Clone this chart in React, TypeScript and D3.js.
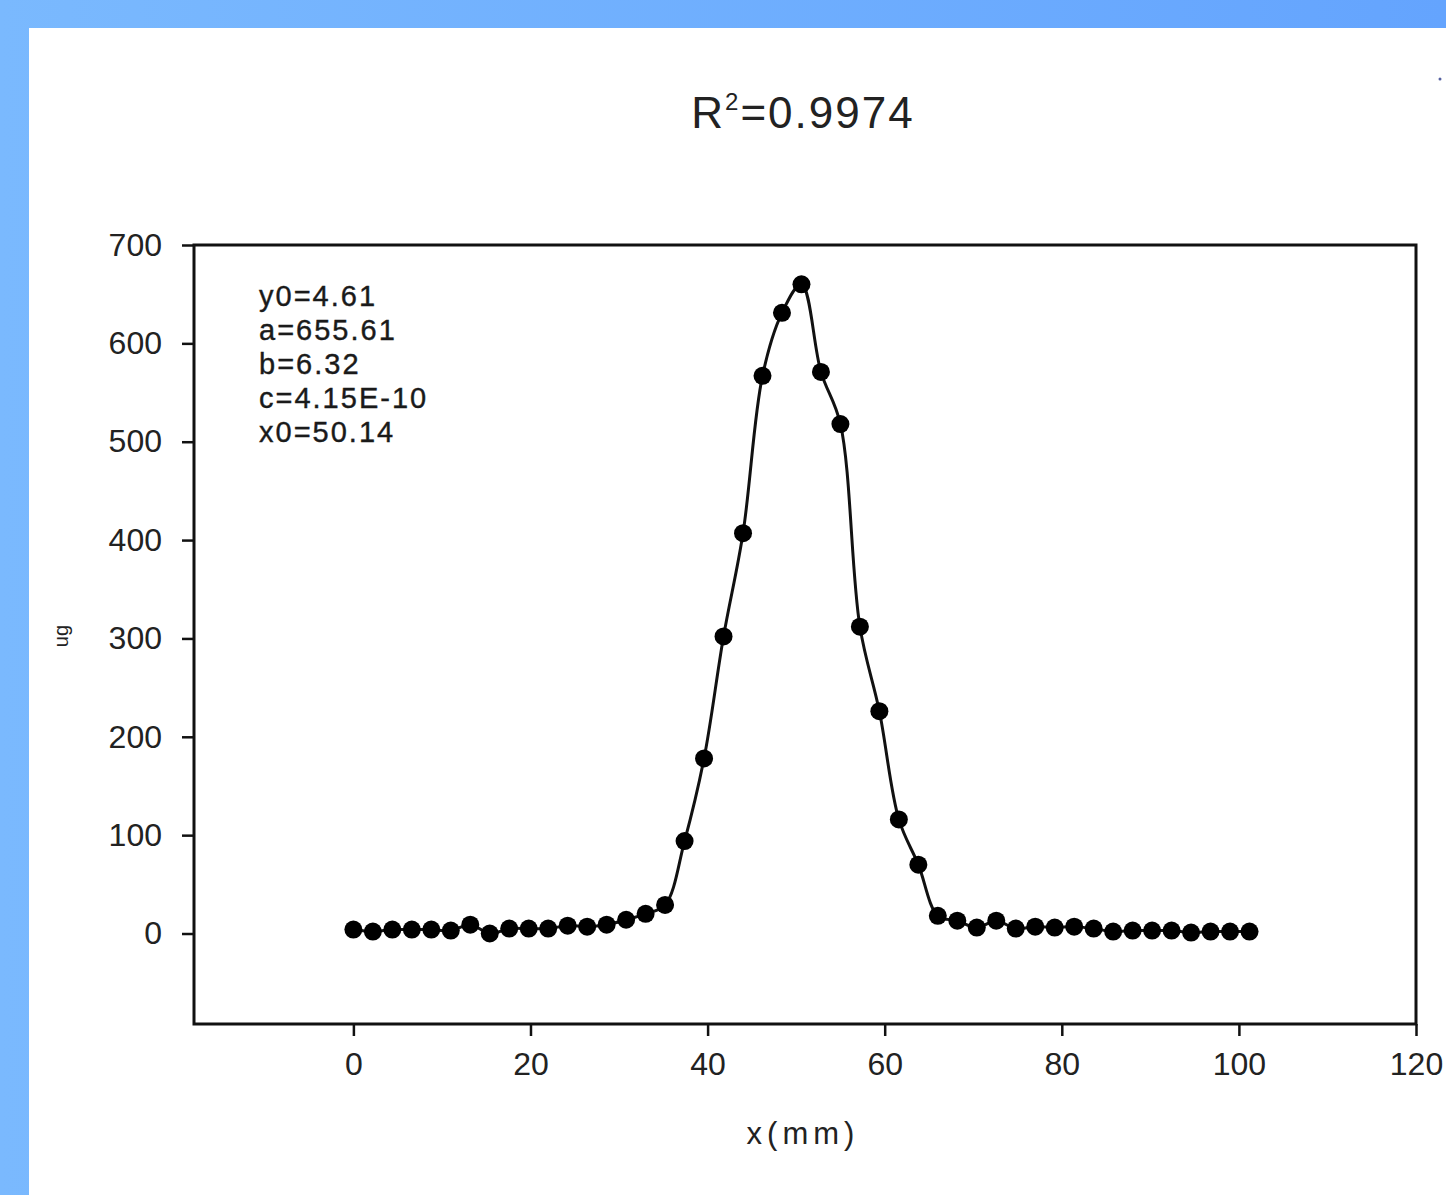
import React, { useEffect, useRef } from "react";
import * as d3 from "d3";

const xValues = [
    0, 2.2, 4.4, 6.6, 8.8, 11, 13.2, 15.4, 17.6, 19.8, 22, 24.2, 26.4, 28.6, 30.8, 33, 35.2,
    37.4, 39.6, 41.8, 44, 46.2, 48.4, 50.6, 52.8, 55, 57.2, 59.4, 61.6, 63.8, 66, 68.2, 70.4,
    72.6, 74.8, 77, 79.2, 81.4, 83.6, 85.8, 88, 90.2, 92.4, 94.6, 96.8, 99, 101.2,
];
const yValues = [
    4, 2, 4, 4, 4, 3, 9, 0, 5, 5, 5, 8, 7, 9, 14, 20, 29,
    94, 178, 302, 407, 567, 631, 660, 571, 518, 312, 226, 116, 70, 18, 13, 6,
    13, 5, 7, 6, 7, 5, 2, 3, 3, 3, 1, 2, 2, 2,
];
const xTicks = [0, 20, 40, 60, 80, 100, 120];
const yTicks = [0, 100, 200, 300, 400, 500, 600, 700];
const fitLabels = ["y0=4.61", "a=655.61", "b=6.32", "c=4.15E-10", "x0=50.14"];

const FONT = "'Liberation Sans', Arial, sans-serif";

const App = () => {
    const chartRef = useRef(null);

    useEffect(() => {
        const width = 1446;
        const height = 1195;
        const plot = { left: 194, right: 1416, top: 245, bottom: 1024 };

        d3.select(chartRef.current).select("svg").remove();

        const svg = d3
            .select(chartRef.current)
            .append("svg")
            .attr("width", width)
            .attr("height", height)
            .style("display", "block");

        const grad = svg.append("defs").append("linearGradient")
            .attr("id", "bg")
            .attr("x1", "0").attr("x2", "1").attr("y1", "0").attr("y2", "0");
        grad.append("stop").attr("offset", "0").attr("stop-color", "#7ab9fe");
        grad.append("stop").attr("offset", "1").attr("stop-color", "#64a4fe");

        svg.append("rect").attr("width", width).attr("height", height).attr("fill", "url(#bg)");
        svg.append("rect")
            .attr("x", 29).attr("y", 28)
            .attr("width", width - 29).attr("height", height - 28)
            .attr("fill", "#fff");
        svg.append("circle").attr("cx", 1440).attr("cy", 79).attr("r", 1.5).attr("fill", "#5560a0");

        const xScale = d3.scaleLinear().domain([-18, 120]).range([plot.left, plot.right]);
        const yScale = d3.scaleLinear().domain([-92, 700]).range([plot.bottom, plot.top]);

        // title
        const title = svg.append("text")
            .attr("x", 803).attr("y", 128)
            .attr("text-anchor", "middle")
            .style("font-family", FONT)
            .style("font-size", "44px")
            .style("letter-spacing", "2px")
            .attr("fill", "#222");
        title.append("tspan").text("R");
        title.append("tspan").attr("dy", -18).style("font-size", "24px").text("2");
        title.append("tspan").attr("dy", 18).text("=0.9974");

        // axes
        const xAxis = svg.append("g")
            .attr("transform", `translate(0,${plot.bottom})`)
            .call(d3.axisBottom(xScale).tickValues(xTicks).tickSize(12).tickPadding(16));
        const yAxis = svg.append("g")
            .attr("transform", `translate(${plot.left},0)`)
            .call(d3.axisLeft(yScale).tickValues(yTicks).tickSize(12).tickPadding(20));

        [xAxis, yAxis].forEach((g) => {
            g.select(".domain").remove();
            g.selectAll("line").attr("stroke", "#111").attr("stroke-width", 2.5);
            g.selectAll("text")
                .style("font-family", FONT)
                .style("font-size", "32px")
                .attr("fill", "#222");
        });

        svg.append("rect")
            .attr("x", plot.left).attr("y", plot.top)
            .attr("width", plot.right - plot.left)
            .attr("height", plot.bottom - plot.top)
            .attr("fill", "none")
            .attr("stroke", "#111")
            .attr("stroke-width", 3);

        // axis titles
        svg.append("text")
            .attr("x", 803).attr("y", 1144)
            .attr("text-anchor", "middle")
            .style("font-family", FONT)
            .style("font-size", "31px")
            .style("letter-spacing", "5px")
            .attr("fill", "#222")
            .text("x(mm)");

        svg.append("text")
            .attr("transform", "translate(68,636) rotate(-90)")
            .attr("text-anchor", "middle")
            .style("font-family", FONT)
            .style("font-size", "20px")
            .attr("fill", "#222")
            .text("ug");

        // fit parameters
        svg.append("g")
            .selectAll("text")
            .data(fitLabels)
            .enter()
            .append("text")
            .attr("x", 259)
            .attr("y", (d, i) => 306 + i * 34)
            .style("font-family", FONT)
            .style("font-size", "29px")
            .style("letter-spacing", "2px")
            .attr("fill", "#1a1a1a")
            .attr("stroke", "#1a1a1a")
            .attr("stroke-width", 0.4)
            .text((d) => d);

        const data = xValues.map((x, i) => ({ x, y: yValues[i] }));

        const line = d3.line()
            .x((d) => xScale(d.x))
            .y((d) => yScale(d.y))
            .curve(d3.curveCatmullRom.alpha(0.5));

        svg.append("path")
            .datum(data)
            .attr("d", line)
            .attr("fill", "none")
            .attr("stroke", "#111")
            .attr("stroke-width", 3);

        svg.append("g")
            .selectAll("circle")
            .data(data)
            .enter()
            .append("circle")
            .attr("cx", (d) => xScale(d.x))
            .attr("cy", (d) => yScale(d.y))
            .attr("r", 9)
            .attr("fill", "#000");
    }, []);

    return (
        <div
            ref={chartRef}
            style={{ position: "absolute", left: 0, top: 0, width: 1446, height: 1195, overflow: "hidden" }}
        ></div>
    );
};

export default App;
